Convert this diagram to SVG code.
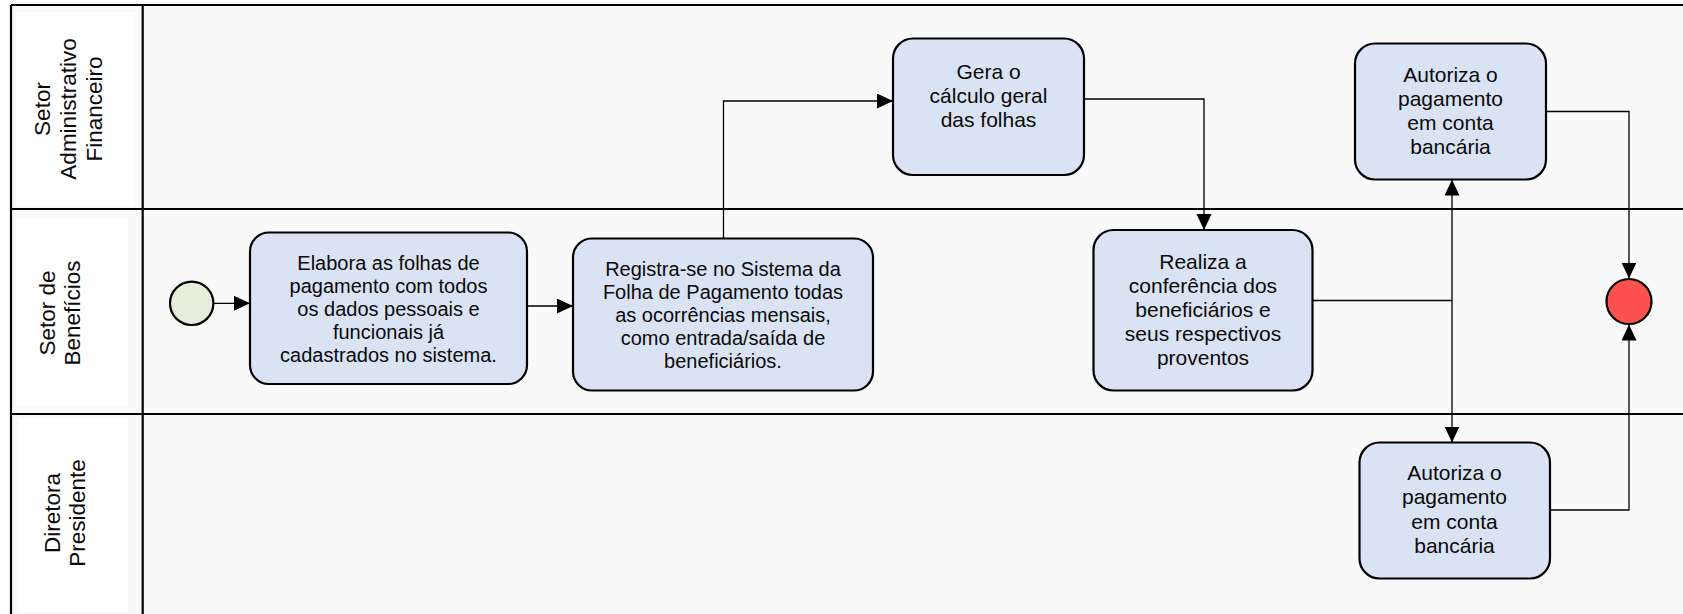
<svg xmlns="http://www.w3.org/2000/svg" width="1683" height="614" viewBox="0 0 1683 614">
<style>
.lane{fill:#f9f9f9;stroke:none}
.hdr{fill:#ffffff;stroke:none}
.div{stroke:#000;stroke-width:2.2;fill:none}
.task{fill:#dae3f3;stroke:#000;stroke-width:2.2}
.t{font-family:"Liberation Sans",Arial,sans-serif;fill:#0a0a0a;text-anchor:middle}
.lbl{font-size:22.5px}
.conn{fill:none;stroke:#000;stroke-width:1.3}
</style>
<defs>
<marker id="arr" markerUnits="userSpaceOnUse" markerWidth="18" markerHeight="16" refX="16" refY="7.5" orient="auto">
<path d="M0,0 L16,7.5 L0,15 Z" fill="#000"/>
</marker>
</defs>
<rect x="0" y="0" width="1683" height="614" fill="#ffffff"/>
<rect class="lane" x="11" y="5" width="1672" height="609"/>
<g id="lane-headers">
<rect class="hdr" x="16" y="12" width="119" height="194"/>
<rect class="hdr" x="16" y="218" width="112" height="189"/>
<rect class="hdr" x="19" y="418" width="109" height="194"/>
<g id="lane1-label">
<text class="t lbl" transform="translate(0,109) rotate(-90)"><tspan x="0" y="50">Setor</tspan><tspan x="0" y="76">Administrativo</tspan><tspan x="0" y="101.5">Financeiro</tspan></text>
</g>
<g id="lane2-label">
<text class="t lbl" transform="translate(0,313) rotate(-90)"><tspan x="0" y="55">Setor de</tspan><tspan x="0" y="80">Benefícios</tspan></text>
</g>
<g id="lane3-label">
<text class="t lbl" transform="translate(0,513) rotate(-90)"><tspan x="0" y="59.5">Diretora</tspan><tspan x="0" y="85">Presidente</tspan></text>
</g>
</g>
<g id="lane-lines">
<line class="div" x1="11" y1="5" x2="1683" y2="5"/>
<line class="div" x1="11" y1="5" x2="11" y2="614"/>
<line class="div" x1="142.7" y1="5" x2="142.7" y2="614"/>
<line class="div" x1="11" y1="209" x2="1683" y2="209"/>
<line class="div" x1="11" y1="414" x2="1683" y2="414"/>
</g>
<g id="connectors">
<path class="conn" d="M213.5,303.3 H250" marker-end="url(#arr)"/>
<path class="conn" d="M527,306 H573" marker-end="url(#arr)"/>
<path class="conn" d="M723.5,238 V101 H893" marker-end="url(#arr)"/>
<path class="conn" d="M1084,99 H1204 V230" marker-end="url(#arr)"/>
<path class="conn" d="M1312,300.5 H1452 V179.5" marker-end="url(#arr)"/>
<path class="conn" d="M1452,300.5 V442.5" marker-end="url(#arr)"/>
<path class="conn" d="M1546,111.5 H1629 V278.5" marker-end="url(#arr)"/>
<path class="conn" d="M1550,510 H1629 V324.5" marker-end="url(#arr)"/>
</g>
<g id="start">
<circle cx="191.7" cy="303.3" r="21.7" fill="#e3efda" stroke="#000" stroke-width="2.2"/>
</g>
<g id="task-elabora">
<rect class="task" x="250" y="232.5" width="277" height="151.5" rx="19"/>
<text class="t" font-size="20"><tspan x="388.5" y="270">Elabora as folhas de</tspan><tspan x="388.5" y="293">pagamento com todos</tspan><tspan x="388.5" y="316">os dados pessoais e</tspan><tspan x="388.5" y="339">funcionais já</tspan><tspan x="388.5" y="362">cadastrados no sistema.</tspan></text>
</g>
<g id="task-registra">
<rect class="task" x="573" y="238.5" width="300" height="152" rx="19"/>
<text class="t" font-size="20"><tspan x="723" y="276">Registra-se no Sistema da</tspan><tspan x="723" y="299">Folha de Pagamento todas</tspan><tspan x="723" y="322">as ocorrências mensais,</tspan><tspan x="723" y="345">como entrada/saída de</tspan><tspan x="723" y="368">beneficiários.</tspan></text>
</g>
<g id="task-gera">
<rect class="task" x="893" y="38.5" width="191" height="136.5" rx="20"/>
<text class="t" font-size="21"><tspan x="988.5" y="79">Gera o</tspan><tspan x="988.5" y="103">cálculo geral</tspan><tspan x="988.5" y="127">das folhas</tspan></text>
</g>
<g id="task-realiza">
<rect class="task" x="1093.5" y="230" width="219" height="160.5" rx="20"/>
<text class="t" font-size="21"><tspan x="1203" y="269">Realiza a</tspan><tspan x="1203" y="293">conferência dos</tspan><tspan x="1203" y="317">beneficiários e</tspan><tspan x="1203" y="341">seus respectivos</tspan><tspan x="1203" y="365">proventos</tspan></text>
</g>
<g id="task-autoriza-adm">
<rect class="task" x="1355" y="43.5" width="191" height="136" rx="20"/>
<text class="t" font-size="21"><tspan x="1450.5" y="82">Autoriza o</tspan><tspan x="1450.5" y="106">pagamento</tspan><tspan x="1450.5" y="130">em conta</tspan><tspan x="1450.5" y="154">bancária</tspan></text>
</g>
<g id="task-autoriza-dir">
<rect class="task" x="1359.5" y="442.5" width="190.5" height="136" rx="20"/>
<text class="t" font-size="21"><tspan x="1454.5" y="480">Autoriza o</tspan><tspan x="1454.5" y="504">pagamento</tspan><tspan x="1454.5" y="529">em conta</tspan><tspan x="1454.5" y="553">bancária</tspan></text>
</g>
<g id="end">
<circle cx="1629" cy="301.5" r="22.5" fill="#ff5050" stroke="#000" stroke-width="2.2"/>
</g>
</svg>
